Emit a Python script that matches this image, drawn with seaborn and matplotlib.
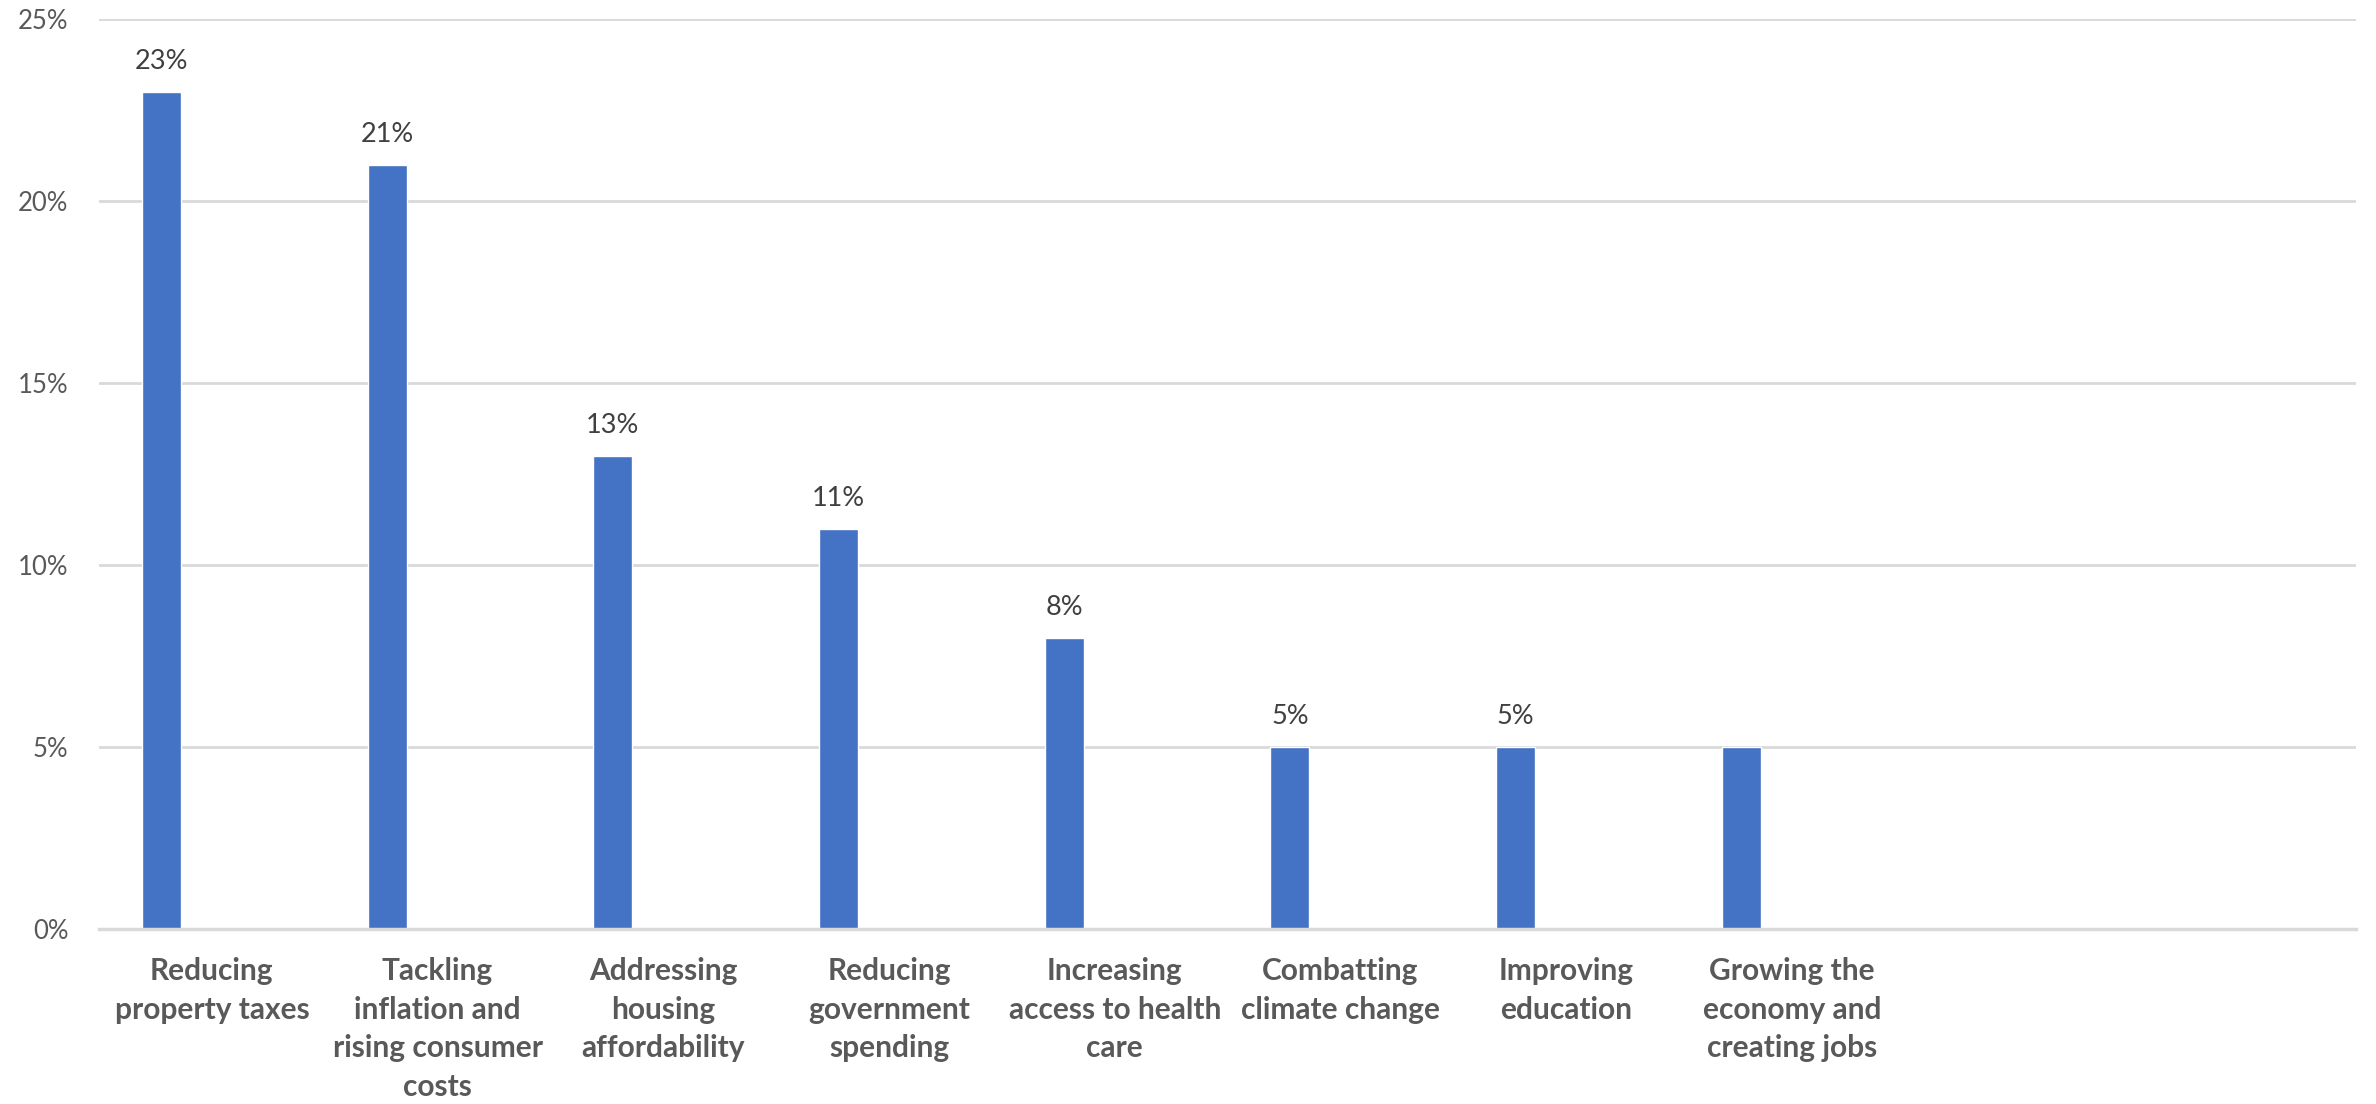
import matplotlib
matplotlib.use("Agg")
import matplotlib.pyplot as plt
import seaborn as sns
import pandas as pd
import numpy as np
from matplotlib.ticker import PercentFormatter

categories = [
    "Reducing\nproperty taxes",
    "Tackling\ninflation and\nrising consumer\ncosts",
    "Addressing\nhousing\naffordability",
    "Reducing\ngovernment\nspending",
    "Increasing\naccess to health\ncare",
    "Combatting\nclimate change",
    "Improving\neducation",
    "Growing the\neconomy and\ncreating jobs",
]
shares = [0.23, 0.21, 0.13, 0.11, 0.08, 0.05, 0.05, 0.05]
data_labels = ["23%", "21%", "13%", "11%", "8%", "5%", "5%", ""]
n_slots = 10          # chart reserves two empty category slots on the right
bar_offset = -0.224   # bar sits left of the category centre
y_ticks = [0, 0.05, 0.10, 0.15, 0.20, 0.25]

sns.set_theme(style="white")
plt.rcParams["font.family"] = ["Lato", "DejaVu Sans"]

df = pd.DataFrame({"pos": np.arange(len(categories)) + bar_offset, "share": shares})

fig = plt.figure(figsize=(23.76, 11.04), dpi=100)
ax = fig.add_axes([0.0417, 0.1585, 0.9499, 0.8243])

sns.barplot(data=df, x="pos", y="share", native_scale=True, width=0.173,
            color="#4472C4", saturation=1, ax=ax, zorder=3)

for bar, lab in zip(ax.patches, data_labels):
    if lab:
        ax.annotate(lab, (bar.get_x() + bar.get_width() / 2, bar.get_height()),
                    xytext=(0, 13), textcoords="offset points",
                    ha="center", va="bottom", fontsize=19.5, color="#404040")

ax.set_xlim(-0.5, n_slots - 0.5)
ax.set_ylim(0, 0.25)
ax.set_yticks(y_ticks)
ax.yaxis.set_major_formatter(PercentFormatter(1.0, decimals=0))
ax.set_xticks(np.arange(len(categories)))
ax.set_xticklabels(categories, fontsize=21.5, fontweight="bold", color="#595959",
                   linespacing=1.47, va="top")
ax.tick_params(axis="x", length=0, pad=20)
ax.tick_params(axis="y", length=0, pad=22, labelsize=18.5, labelcolor="#595959")
ax.set_xlabel("")
ax.set_ylabel("")

ax.grid(axis="y", color="#D9D9D9", linewidth=2, zorder=0)
for side in ["top", "right", "left"]:
    ax.spines[side].set_visible(False)
ax.spines["bottom"].set_color("#D9D9D9")
ax.spines["bottom"].set_linewidth(2.5)
ax.spines["bottom"].set_zorder(4)

fig.savefig("out.png", dpi=100, facecolor="white")
plt.close(fig)
